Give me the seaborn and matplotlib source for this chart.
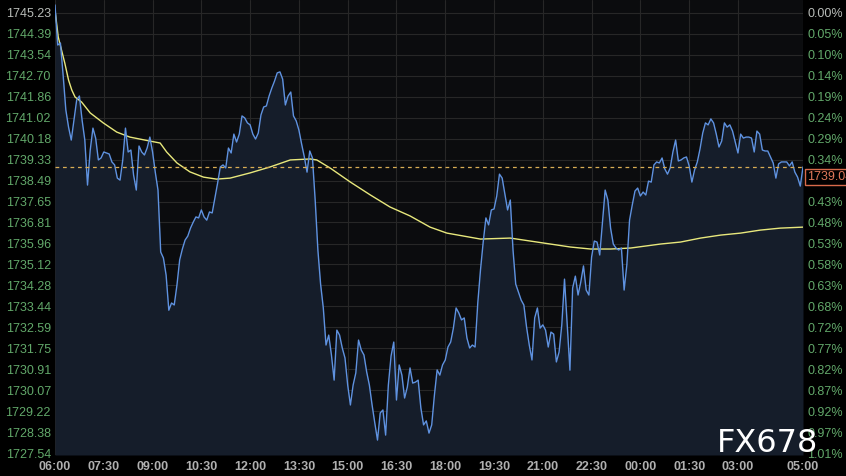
import numpy as np
import pandas as pd
import matplotlib
matplotlib.use("Agg")
import matplotlib.pyplot as plt
import seaborn as sns

sns.set_theme(style="dark")
plt.rcParams["font.family"] = ["Liberation Sans", "DejaVu Sans"]

# %%
# Price every 5 minutes, 06:00 -> 05:00 next day
prices = [
    1745.55, 1743.94, 1744.02, 1742.73, 1741.33, 1740.64, 1740.12, 1740.92, 1741.73, 1741.89,
    1740.92, 1740.12, 1738.31, 1739.72, 1740.60, 1740.20, 1739.32, 1739.40, 1739.64, 1739.60,
    1739.56, 1739.24, 1739.12, 1738.59, 1738.51, 1739.32, 1740.60, 1739.64, 1739.72, 1738.71,
    1738.11, 1739.88, 1739.64, 1739.52, 1739.80, 1740.24, 1739.64, 1738.83, 1738.11, 1735.62,
    1735.38, 1734.69, 1733.28, 1733.57, 1733.49, 1734.29, 1735.30, 1735.74, 1736.10, 1736.26,
    1736.58, 1736.82, 1737.03, 1736.99, 1737.31, 1737.03, 1736.90, 1737.23, 1737.19, 1737.79,
    1738.39, 1739.04, 1739.12, 1739.00, 1739.80, 1739.60, 1740.36, 1740.04, 1740.36, 1741.09,
    1741.01, 1740.81, 1740.73, 1740.36, 1740.16, 1740.40, 1741.13, 1741.45, 1741.49, 1741.89,
    1742.21, 1742.49, 1742.82, 1742.86, 1742.57, 1741.53, 1741.89, 1742.05, 1741.09, 1740.89,
    1740.52, 1739.96, 1739.44, 1738.83, 1739.68, 1739.40, 1737.71, 1735.70, 1734.33, 1733.37,
    1731.88, 1732.28, 1731.48, 1730.47, 1732.48, 1732.28, 1731.76, 1731.36, 1730.27, 1729.47,
    1730.27, 1730.76, 1732.08, 1731.68, 1731.48, 1730.80, 1730.27, 1729.47, 1728.75, 1728.06,
    1729.15, 1729.27, 1728.26, 1730.27, 1731.44, 1732.00, 1729.67, 1731.08, 1730.67, 1729.75,
    1730.19, 1730.96, 1730.35, 1730.39, 1730.47, 1729.35, 1728.67, 1728.83, 1728.34, 1728.67,
    1729.87, 1730.88, 1730.67, 1731.08, 1731.28, 1731.80, 1732.00, 1732.56, 1733.37, 1733.17,
    1732.89, 1732.97, 1732.16, 1731.76, 1731.88, 1731.80, 1733.57, 1734.90, 1736.02, 1736.99,
    1736.71, 1737.31, 1737.35, 1737.87, 1738.75, 1738.59, 1737.95, 1737.31, 1737.71, 1735.70,
    1734.33, 1734.01, 1733.69, 1733.49, 1732.60, 1731.88, 1731.28, 1732.97, 1733.37, 1732.56,
    1732.69, 1732.48, 1731.80, 1732.40, 1732.32, 1731.20, 1731.60, 1732.69, 1734.53, 1732.69,
    1730.87, 1734.17, 1734.65, 1733.89, 1734.41, 1735.06, 1734.09, 1733.89, 1735.42, 1736.06,
    1736.02, 1735.50, 1736.82, 1738.11, 1737.71, 1736.58, 1735.94, 1735.78, 1735.70, 1735.78,
    1734.09, 1735.10, 1736.90, 1737.51, 1738.07, 1738.19, 1737.87, 1738.03, 1737.91, 1738.47,
    1738.43, 1739.12, 1739.24, 1739.20, 1739.40, 1738.96, 1738.75, 1739.00, 1739.64, 1740.12,
    1739.28, 1739.32, 1739.40, 1739.44, 1739.08, 1738.43, 1738.92, 1739.24, 1739.76, 1740.40,
    1740.81, 1740.73, 1740.97, 1740.81, 1740.36, 1739.84, 1740.08, 1740.81, 1740.64, 1740.73,
    1740.48, 1740.04, 1739.60, 1740.36, 1740.20, 1740.24, 1740.24, 1740.20, 1739.64, 1740.48,
    1740.36, 1739.72, 1739.68, 1739.68, 1739.44, 1739.20, 1738.59, 1739.16, 1739.24, 1739.24,
    1739.24, 1739.08, 1739.24, 1738.83, 1738.63, 1738.27, 1739.04,
]
minutes = np.arange(len(prices)) * 5  # minutes after 06:00

# Yellow average line (minutes after 06:00, price)
avg_minutes = [0, 6, 12, 18, 25, 31, 37, 49, 65, 89, 114, 138, 175, 194, 206, 225, 249,
               274, 298, 323, 360, 397, 434, 471, 483, 508, 545, 582, 618, 655, 692, 723,
               754, 785, 840, 877, 914, 951, 988, 1025, 1062, 1117, 1154, 1191, 1228,
               1265, 1301, 1338, 1380]
avg_prices = [1745.35, 1744.26, 1743.74, 1743.22, 1742.53, 1742.13, 1741.85, 1741.65,
              1741.21, 1740.81, 1740.44, 1740.24, 1740.08, 1740.00, 1739.64, 1739.20,
              1738.84, 1738.63, 1738.55, 1738.59, 1738.80, 1739.04, 1739.32, 1739.36,
              1739.32, 1738.99, 1738.43, 1737.91, 1737.43, 1737.07, 1736.62, 1736.38,
              1736.26, 1736.14, 1736.18, 1736.06, 1735.94, 1735.82, 1735.74, 1735.74,
              1735.78, 1735.94, 1736.02, 1736.18, 1736.30, 1736.38, 1736.50, 1736.58,
              1736.62]

last_price = 1739.04
last_label = "1739.04"

tick_minutes = [0, 90, 180, 270, 360, 450, 540, 630, 720, 810, 900, 990, 1080, 1170, 1260, 1380]
time_labels = ["06:00", "07:30", "09:00", "10:30", "12:00", "13:30", "15:00", "16:30",
               "18:00", "19:30", "21:00", "22:30", "00:00", "01:30", "03:00", "05:00"]

price_ticks = [1745.23, 1744.39, 1743.54, 1742.70, 1741.86, 1741.02, 1740.18, 1739.33,
               1738.49, 1737.65, 1736.81, 1735.96, 1735.12, 1734.28, 1733.44, 1732.59,
               1731.75, 1730.91, 1730.07, 1729.22, 1728.38, 1727.54]
pct_labels = ["0.00%", "0.05%", "0.10%", "0.14%", "0.19%", "0.24%", "0.29%", "0.34%",
              "0.38%", "0.43%", "0.48%", "0.53%", "0.58%", "0.63%", "0.68%", "0.72%",
              "0.77%", "0.82%", "0.87%", "0.92%", "0.97%", "1.01%"]

# %%
df = pd.DataFrame({"minute": minutes, "price": prices})
y_low, y_high = 1727.46, 1745.75

fig = plt.figure(figsize=(8.46, 4.76), dpi=100, facecolor="#000000")
ax = fig.add_axes([55 / 846, 21 / 476, 748 / 846, 455 / 476])
ax.set_facecolor("#0b0c0e")

ax.fill_between(df["minute"], df["price"], y_low, color="#151d2a", lw=0, zorder=1)
sns.lineplot(data=df, x="minute", y="price", color="#5f92e0", lw=1, ax=ax, zorder=3)
sns.lineplot(x=avg_minutes, y=avg_prices, color="#e8e87c", lw=1, ax=ax, zorder=2)
ax.axhline(last_price, color="#d9ad55", lw=0.9, ls=(0, (3, 3)), zorder=4)

ax.set_xlim(0, 1380)
ax.set_ylim(y_low, y_high)
ax.set_xlabel("")
ax.set_ylabel("")
ax.set_xticks(tick_minutes)
ax.set_xticklabels(time_labels, fontweight="bold")
ax.set_yticks(price_ticks)
ax.set_yticklabels([f"{p:.2f}" for p in price_ticks])
ax.grid(True, color="#272727", lw=0.8)
ax.tick_params(axis="x", colors="#b0b0b0", labelsize=9, length=0, pad=4)
ax.tick_params(axis="y", colors="#62a86a", labelsize=9, length=0, pad=3)
for s in ax.spines.values():
    s.set_visible(False)

ax2 = ax.twinx()
ax2.set_ylim(y_low, y_high)
ax2.set_yticks(price_ticks)
ax2.set_yticklabels(pct_labels)
ax2.tick_params(axis="y", colors="#62a86a", labelsize=9, length=0, pad=3)
ax2.grid(False)
for s in ax2.spines.values():
    s.set_visible(False)

ax.get_yticklabels()[0].set_color("#b8bcb8")
ax2.get_yticklabels()[0].set_color("#b8bcb8")

# last price box on the right
ax2.annotate(last_label, xy=(1.0, 1738.63), xycoords=("axes fraction", "data"),
             xytext=(3, 0), textcoords="offset points", va="center", ha="left",
             fontsize=9, color="#e0785a", annotation_clip=False, zorder=10,
             bbox=dict(boxstyle="square,pad=0.15", fc="#000000", ec="#d86a4a", lw=1))

fig.text(717 / 846, 1 - 452 / 476, "FX678", color="white", fontsize=23,
         family="DejaVu Sans", ha="left", va="baseline")

fig.savefig("out.png", dpi=100, facecolor=fig.get_facecolor())
